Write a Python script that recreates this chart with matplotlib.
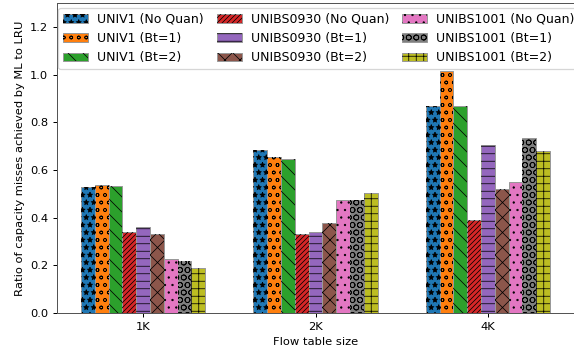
import numpy as np
import matplotlib.pyplot as plt
from matplotlib.legend_handler import HandlerTuple

# ---------------- Data ----------------
sizes = ['1K', '2K', '4K']
series_names = ['UNIV1 (No Quan)', 'UNIV1 (Bt=1)', 'UNIV1 (Bt=2)',
                'UNIBS0930 (No Quan)', 'UNIBS0930 (Bt=1)', 'UNIBS0930 (Bt=2)',
                'UNIBS1001 (No Quan)', 'UNIBS1001 (Bt=1)', 'UNIBS1001 (Bt=2)']
univ1_noq = [0.527, 0.685, 0.869]
univ1_bt1 = [0.536, 0.653, 1.015]
univ1_bt2 = [0.532, 0.645, 0.866]
unibs0930_noq = [0.340, 0.331, 0.390]
unibs0930_bt1 = [0.360, 0.340, 0.705]
unibs0930_bt2 = [0.330, 0.378, 0.520]
unibs1001_noq = [0.225, 0.473, 0.548]
unibs1001_bt1 = [0.217, 0.473, 0.734]
unibs1001_bt2 = [0.188, 0.502, 0.681]

all_series = [univ1_noq, univ1_bt1, univ1_bt2,
              unibs0930_noq, unibs0930_bt1, unibs0930_bt2,
              unibs1001_noq, unibs1001_bt1, unibs1001_bt2]

colors = ['#1f77b4', '#ff7f0e', '#2ca02c', '#d62728', '#9467bd',
          '#8c564b', '#e377c2', '#7f7f7f', '#bcbd22']
# diagonal hatches come out half as dense as the others, hence the doubling
hatches = ['**', 'oo', '\\\\', '//////', '--', 'xx', '..', 'OO', '++']

plt.rcParams['font.size'] = 9.2
plt.rcParams['hatch.linewidth'] = 0.6

DPI = 90
W, H = 574, 352
fig = plt.figure(figsize=(W / DPI, H / DPI), dpi=DPI)
ax = fig.add_axes([57 / W, 39 / H, (W - 57) / W, 310 / H])

x = np.arange(len(sizes))
width = 0.08
handles = []
for i, vals in enumerate(all_series):
    offset = (i - 4) * width
    # colour fill with grey outline, then black hatch on top
    b_fill = ax.bar(x + offset, vals, width, color=colors[i],
                    edgecolor='#999999', linewidth=0.8)
    b_hatch = ax.bar(x + offset, vals, width, fill=False, hatch=hatches[i],
                     edgecolor='black', linewidth=0)
    handles.append((b_fill, b_hatch))

ax.set_xticks(x)
ax.set_xticklabels(sizes)
ax.set_xlim(-0.5, 2.5)
ax.set_ylim(0, 1.3)
ax.set_yticks([0.0, 0.2, 0.4, 0.6, 0.8, 1.0, 1.2])
ax.set_xlabel('Flow table size')
ax.set_ylabel('Ratio of capacity misses achieved by ML to LRU')
for s in ax.spines.values():
    s.set_color('#555555')

ax.legend(handles, series_names, ncol=3, loc='upper left',
          bbox_to_anchor=(1 / 517, 1 - 5 / 310), borderaxespad=0,
          fontsize=10, handlelength=2.0, handletextpad=0.75,
          columnspacing=1.0,
          handler_map={tuple: HandlerTuple(ndivide=1)})

fig.savefig('out.png', dpi=DPI)
